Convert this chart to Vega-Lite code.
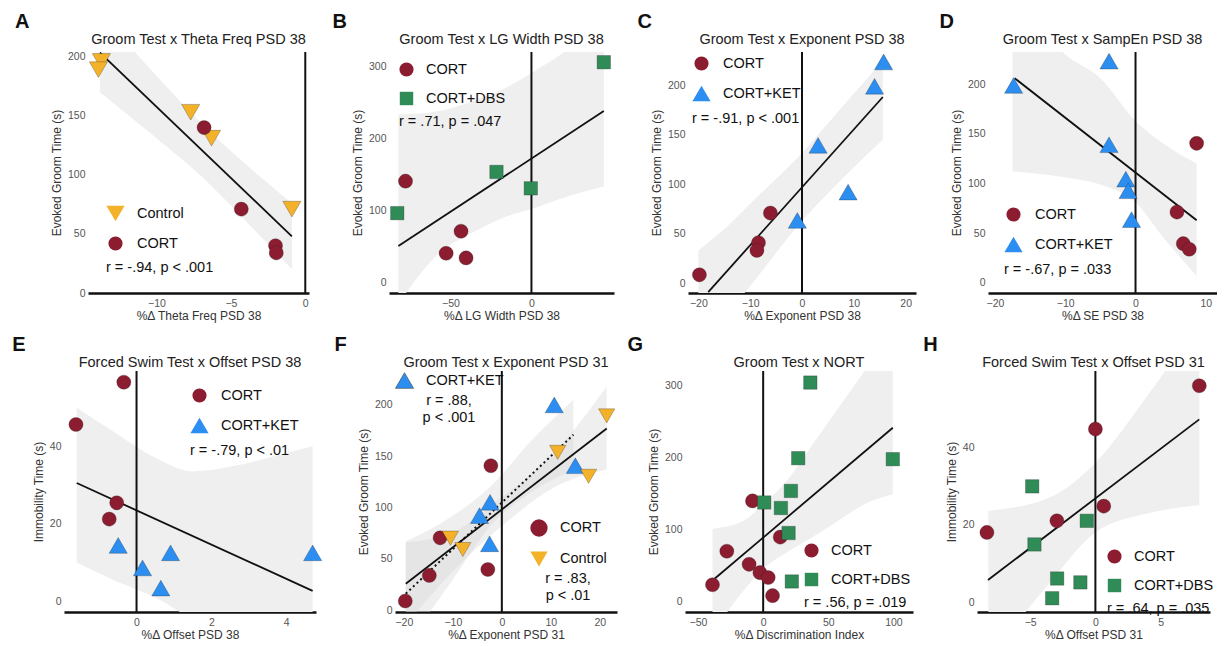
{
"$schema": "https://vega.github.io/schema/vega-lite/v6.json",
"padding": {"left": 12, "top": 11, "right": 0, "bottom": 0},
"background": "white",
"spacing": 12,
"resolve": {"scale": {"color": "independent", "shape": "independent", "size": "independent"}, "legend": {"color": "independent", "shape": "independent", "size": "independent"}},
"config": {
  "font": "Liberation Sans",
  "view": {"stroke": null},
  "axis": {"grid": false, "ticks": false, "labelColor": "#555", "labelFontSize": 10.5, "titleColor": "#333", "titleFontSize": 12, "titleFontWeight": "normal", "labelFlush": false, "labelOverlap": false},
  "axisX": {"domainColor": "#111", "domainWidth": 2.6, "labelPadding": 5, "titlePadding": 2},
  "axisY": {"domain": false, "labelPadding": 3, "titlePadding": 4},
  "legend": {"labelFontSize": 14.5, "labelColor": "#111", "titleFontSize": 14.5, "titleFontWeight": "normal", "titleColor": "#111", "titleOrient": "bottom", "titlePadding": 9, "titleLimit": 400, "labelLimit": 300, "symbolSize": 300, "symbolStrokeWidth": 0.6, "symbolStrokeColor": "#444", "symbolOpacity": 1, "rowPadding": 12, "labelOffset": 12, "padding": 0}
},
"datasets": {
  "A_pts": [
    {"x": -13.7, "y": 196, "group": "Control"}, {"x": -13.9, "y": 189, "group": "Control"}, {"x": -7.7, "y": 153, "group": "Control"}, {"x": -6.3, "y": 131, "group": "Control"}, {"x": -0.9, "y": 71, "group": "Control"},
    {"x": -6.8, "y": 140, "group": "CORT"}, {"x": -4.3, "y": 71, "group": "CORT"}, {"x": -2.0, "y": 40, "group": "CORT"}, {"x": -1.95, "y": 34, "group": "CORT"}],
  "A_fit": [{"x": -13.8, "y": 203.5}, {"x": -0.9, "y": 48}],
  "A_band": [{"x": -13.8, "lo": 170, "hi": 237}, {"x": -10, "lo": 131, "hi": 184}, {"x": -7, "lo": 99, "hi": 144}, {"x": -4, "lo": 61, "hi": 109}, {"x": -0.9, "lo": 20, "hi": 76}],
  "B_pts": [
    {"x": -77.8, "y": 140.5, "group": "CORT"}, {"x": -43.5, "y": 70.9, "group": "CORT"}, {"x": -52.7, "y": 40.2, "group": "CORT"}, {"x": -40.4, "y": 33.8, "group": "CORT"},
    {"x": -82.9, "y": 96, "group": "CORT+DBS"}, {"x": -21.6, "y": 153.3, "group": "CORT+DBS"}, {"x": -0.4, "y": 130.5, "group": "CORT+DBS"}, {"x": 44.7, "y": 305.8, "group": "CORT+DBS"}],
  "B_fit": [{"x": -82.2, "y": 50.3}, {"x": 44.7, "y": 238}],
  "B_band": [{"x": -82.2, "lo": -30, "hi": 233}, {"x": -56.7, "lo": 41, "hi": 238}, {"x": -36.3, "lo": 69, "hi": 252}, {"x": -15.9, "lo": 91, "hi": 270}, {"x": 4.5, "lo": 105, "hi": 297}, {"x": 20.8, "lo": 118, "hi": 321}, {"x": 44.7, "lo": 133, "hi": 370}],
  "C_pts": [
    {"x": -19.8, "y": 8.4, "group": "CORT"}, {"x": -6.1, "y": 70.8, "group": "CORT"}, {"x": -8.4, "y": 40.8, "group": "CORT"}, {"x": -8.7, "y": 33.1, "group": "CORT"},
    {"x": 15.75, "y": 223.6, "group": "CORT+KET"}, {"x": 14.0, "y": 199, "group": "CORT+KET"}, {"x": 3.1, "y": 139.3, "group": "CORT+KET"}, {"x": 8.9, "y": 92, "group": "CORT+KET"}, {"x": -0.9, "y": 63.4, "group": "CORT+KET"}],
  "C_fit": [{"x": -18.1, "y": -9.1}, {"x": 15.6, "y": 188.2}],
  "C_band": [{"x": -20, "lo": -75, "hi": 33}, {"x": -14.3, "lo": -32, "hi": 58}, {"x": -7.9, "lo": 11, "hi": 91}, {"x": -0.8, "lo": 58, "hi": 127}, {"x": 6.9, "lo": 101, "hi": 173}, {"x": 15.6, "lo": 145, "hi": 225}],
  "D_pts": [
    {"x": 8.7, "y": 140.4, "group": "CORT"}, {"x": 5.9, "y": 71.2, "group": "CORT"}, {"x": 6.8, "y": 39.4, "group": "CORT"}, {"x": 7.65, "y": 33.8, "group": "CORT"},
    {"x": -17.35, "y": 198.7, "group": "CORT+KET"}, {"x": -3.77, "y": 223.2, "group": "CORT+KET"}, {"x": -3.77, "y": 139, "group": "CORT+KET"}, {"x": -1.38, "y": 104.3, "group": "CORT+KET"}, {"x": -1.05, "y": 92.7, "group": "CORT+KET"}, {"x": -0.57, "y": 63.6, "group": "CORT+KET"}],
  "D_fit": [{"x": -17.2, "y": 206}, {"x": 8.7, "y": 62.9}],
  "D_band": [{"x": -17.5, "lo": 112, "hi": 290}, {"x": -10, "lo": 106, "hi": 230}, {"x": -5, "lo": 99, "hi": 206}, {"x": 0, "lo": 81, "hi": 163}, {"x": 4, "lo": 45, "hi": 140}, {"x": 8.7, "lo": 7, "hi": 120}],
  "E_pts": [
    {"x": -0.34, "y": 56.5, "group": "CORT"}, {"x": -1.62, "y": 45.6, "group": "CORT"}, {"x": -0.53, "y": 25.4, "group": "CORT"}, {"x": -0.73, "y": 21.2, "group": "CORT"},
    {"x": -0.49, "y": 14.4, "group": "CORT+KET"}, {"x": 0.91, "y": 12.5, "group": "CORT+KET"}, {"x": 0.16, "y": 8.6, "group": "CORT+KET"}, {"x": 0.65, "y": 3.4, "group": "CORT+KET"}, {"x": 4.71, "y": 12.5, "group": "CORT+KET"}],
  "E_fit": [{"x": -1.6, "y": 30.5}, {"x": 4.71, "y": 2.7}],
  "E_band": [{"x": -1.6, "lo": 10, "hi": 50}, {"x": -0.5, "lo": 5, "hi": 43}, {"x": 0.5, "lo": 1, "hi": 37}, {"x": 1.5, "lo": -5, "hi": 33.5}, {"x": 2.67, "lo": -14, "hi": 35}, {"x": 3.7, "lo": -24, "hi": 37.5}, {"x": 4.71, "lo": -35, "hi": 40}],
  "F_pts": [
    {"x": -19.7, "y": 9.1, "group": "CORT"}, {"x": -14.8, "y": 34, "group": "CORT"}, {"x": -12.6, "y": 70.6, "group": "CORT"}, {"x": -2.24, "y": 140.8, "group": "CORT"}, {"x": -2.86, "y": 39.8, "group": "CORT"},
    {"x": 10.7, "y": 200, "group": "CORT+KET"}, {"x": 15, "y": 140.8, "group": "CORT+KET"}, {"x": -2.4, "y": 105.2, "group": "CORT+KET"}, {"x": -4.55, "y": 92.2, "group": "CORT+KET"}, {"x": -2.5, "y": 64.8, "group": "CORT+KET"},
    {"x": 21.4, "y": 189.3, "group": "Control"}, {"x": 11.4, "y": 153.8, "group": "Control"}, {"x": 17.7, "y": 130.5, "group": "Control"}, {"x": -10.5, "y": 70.3, "group": "Control"}, {"x": -7.96, "y": 59.2, "group": "Control"}],
  "F_fit_ctrl": [{"x": -19.6, "y": 25.9}, {"x": 21.4, "y": 177.1}],
  "F_fit_ket": [{"x": -19.6, "y": 16.2}, {"x": 14.6, "y": 170.9}],
  "F_band_ctrl": [{"x": -19.6, "lo": -14, "hi": 66}, {"x": -10, "lo": 38, "hi": 76}, {"x": 0, "lo": 82, "hi": 110}, {"x": 10, "lo": 118, "hi": 150}, {"x": 21.4, "lo": 137, "hi": 218}],
  "F_band_ket": [{"x": -19.6, "lo": -35, "hi": 67}, {"x": -10, "lo": 30, "hi": 92}, {"x": -2, "lo": 84, "hi": 122}, {"x": 6, "lo": 115, "hi": 165}, {"x": 14.6, "lo": 137, "hi": 205}],
  "G_pts": [
    {"x": -38.9, "y": 22.9, "group": "CORT"}, {"x": -27.9, "y": 69.6, "group": "CORT"}, {"x": -8.2, "y": 139.7, "group": "CORT"}, {"x": -10.8, "y": 51.4, "group": "CORT"}, {"x": -2.5, "y": 39.8, "group": "CORT"}, {"x": 3.85, "y": 33, "group": "CORT"}, {"x": 13.1, "y": 89.3, "group": "CORT"}, {"x": 7.2, "y": 7.8, "group": "CORT"},
    {"x": 36.2, "y": 304.5, "group": "CORT+DBS"}, {"x": 26.9, "y": 199.2, "group": "CORT+DBS"}, {"x": 99.5, "y": 197.8, "group": "CORT+DBS"}, {"x": 21.3, "y": 153.6, "group": "CORT+DBS"}, {"x": 0.8, "y": 137.5, "group": "CORT+DBS"}, {"x": 13.6, "y": 129.8, "group": "CORT+DBS"}, {"x": 19.5, "y": 95, "group": "CORT+DBS"}, {"x": 22, "y": 27.5, "group": "CORT+DBS"}],
  "G_fit": [{"x": -38.9, "y": 28.8}, {"x": 99.5, "y": 241.6}],
  "G_band": [{"x": -38.9, "lo": -45, "hi": 101}, {"x": -15, "lo": 15, "hi": 112}, {"x": 0, "lo": 45, "hi": 135}, {"x": 20, "lo": 70, "hi": 172}, {"x": 36.7, "lo": 88, "hi": 215}, {"x": 60, "lo": 115, "hi": 275}, {"x": 77.7, "lo": 135, "hi": 320}, {"x": 99.5, "lo": 149, "hi": 370}],
  "H_pts": [
    {"x": -8.31, "y": 18, "group": "CORT"}, {"x": -2.95, "y": 21, "group": "CORT"}, {"x": 0, "y": 44.7, "group": "CORT"}, {"x": 0.64, "y": 24.8, "group": "CORT"}, {"x": 7.96, "y": 55.9, "group": "CORT"},
    {"x": -4.84, "y": 29.9, "group": "CORT+DBS"}, {"x": -0.66, "y": 21, "group": "CORT+DBS"}, {"x": -4.67, "y": 14.9, "group": "CORT+DBS"}, {"x": -2.93, "y": 6.1, "group": "CORT+DBS"}, {"x": -1.15, "y": 5.1, "group": "CORT+DBS"}, {"x": -3.31, "y": 1, "group": "CORT+DBS"}],
  "H_fit": [{"x": -8.23, "y": 5.7}, {"x": 7.96, "y": 47.2}],
  "H_band": [{"x": -8.2, "lo": -15, "hi": 23.6}, {"x": -3.5, "lo": 5, "hi": 27}, {"x": 0, "lo": 18, "hi": 36}, {"x": 4.13, "lo": 23, "hi": 54}, {"x": 7.96, "lo": 25, "hi": 72}]
},
"vconcat": [
 {"spacing": 23, "resolve": {"scale": {"color": "independent", "shape": "independent", "size": "independent"}, "legend": {"color": "independent", "shape": "independent", "size": "independent"}},
  "hconcat": [
  {"title": {"text": "A", "anchor": "start", "frame": "group", "dx": -49, "fontSize": 20, "fontWeight": "bold", "color": "#111", "offset": 0},
   "resolve": {"scale": {"color": "independent", "shape": "independent", "size": "independent"}, "legend": {"color": "independent", "shape": "independent", "size": "independent"}},
   "bounds": "flush",
   "spacing": 23,
   "hconcat": [
    {"width": 1, "height": 1, "data": {"values": []}, "mark": "point"},
    {
    "width": 221, "height": 241,
    "title": {"text": "Groom Test x Theta Freq PSD 38", "anchor": "middle", "frame": "group", "fontSize": 14.5, "fontWeight": "normal", "color": "#222", "offset": 4},
    "layer": [
     {"data": {"name": "A_band"}, "mark": {"type": "area", "color": "#efefef", "opacity": 1, "clip": true, "interpolate": "monotone"},
      "encoding": {"x": {"field": "x", "type": "quantitative", "title": "%Δ Theta Freq PSD 38", "scale": {"domain": [-14.6, 0.25], "nice": false, "zero": false}, "axis": {"values": [-10, -5, 0]}},
                   "y": {"field": "lo", "type": "quantitative", "title": "Evoked Groom Time (s)", "scale": {"domain": [0, 204], "nice": false, "zero": false}, "axis": {"values": [0, 50, 100, 150, 200]}},
                   "y2": {"field": "hi"}}},
     {"data": {"values": [{}]}, "mark": {"type": "rule", "color": "#111", "strokeWidth": 2}, "encoding": {"x": {"datum": 0, "type": "quantitative"}}},
     {"data": {"name": "A_fit"}, "mark": {"type": "line", "color": "#111", "strokeWidth": 1.8, "clip": true},
      "encoding": {"x": {"field": "x", "type": "quantitative", "title": "%Δ Theta Freq PSD 38"}, "y": {"field": "y", "type": "quantitative", "title": "Evoked Groom Time (s)"}}},
     {"data": {"name": "A_pts"}, "mark": {"type": "point", "filled": true, "opacity": 1, "stroke": "#222", "strokeOpacity": 0.35, "strokeWidth": 0.8},
      "encoding": {"x": {"field": "x", "type": "quantitative", "title": "%Δ Theta Freq PSD 38"},
                   "y": {"field": "y", "type": "quantitative", "title": "Evoked Groom Time (s)"},
                   "size": {"field": "group", "type": "nominal", "scale": {"type": "point", "domain": ["Control", "CORT"], "range": [330, 200]}, "legend": null},
                   "color": {"field": "group", "type": "nominal", "scale": {"domain": ["Control", "CORT"], "range": ["#f3b229", "#8c1c30"]}, "legend": {"title": "r = -.94, p < .001", "orient": "bottom-left", "offset": 18}},
                   "shape": {"field": "group", "type": "nominal", "scale": {"domain": ["Control", "CORT"], "range": ["triangle-down", "circle"]}, "legend": {"title": "r = -.94, p < .001", "orient": "bottom-left", "offset": 18}}}}
    ]}]},
  {"title": {"text": "B", "anchor": "start", "frame": "bounds", "dx": -19, "fontSize": 20, "fontWeight": "bold", "color": "#111", "offset": 0},
   "resolve": {"scale": {"color": "independent", "shape": "independent", "size": "independent"}, "legend": {"color": "independent", "shape": "independent", "size": "independent"}},
   "vconcat": [{
    "width": 225, "height": 241,
    "title": {"text": "Groom Test x LG Width PSD 38", "anchor": "middle", "frame": "group", "fontSize": 14.5, "fontWeight": "normal", "color": "#222", "offset": 4},
    "layer": [
     {"data": {"name": "B_band"}, "mark": {"type": "area", "color": "#efefef", "opacity": 1, "clip": true, "interpolate": "monotone"},
      "encoding": {"x": {"field": "x", "type": "quantitative", "title": "%Δ LG Width PSD 38", "scale": {"domain": [-88, 51], "nice": false, "zero": false}, "axis": {"values": [-50, 0]}},
                   "y": {"field": "lo", "type": "quantitative", "title": "Evoked Groom Time (s)", "scale": {"domain": [-15, 320], "nice": false, "zero": false}, "axis": {"values": [0, 100, 200, 300]}},
                   "y2": {"field": "hi"}}},
     {"data": {"values": [{}]}, "mark": {"type": "rule", "color": "#111", "strokeWidth": 2}, "encoding": {"x": {"datum": 0, "type": "quantitative"}}},
     {"data": {"name": "B_fit"}, "mark": {"type": "line", "color": "#111", "strokeWidth": 1.8, "clip": true},
      "encoding": {"x": {"field": "x", "type": "quantitative", "title": "%Δ LG Width PSD 38"}, "y": {"field": "y", "type": "quantitative", "title": "Evoked Groom Time (s)"}}},
     {"data": {"name": "B_pts"}, "mark": {"type": "point", "filled": true, "opacity": 1, "stroke": "#222", "strokeOpacity": 0.35, "strokeWidth": 0.8},
      "encoding": {"x": {"field": "x", "type": "quantitative", "title": "%Δ LG Width PSD 38"},
                   "y": {"field": "y", "type": "quantitative", "title": "Evoked Groom Time (s)"},
                   "size": {"field": "group", "type": "nominal", "scale": {"type": "point", "domain": ["CORT", "CORT+DBS"], "range": [200, 180]}, "legend": null},
                   "color": {"field": "group", "type": "nominal", "scale": {"domain": ["CORT", "CORT+DBS"], "range": ["#8c1c30", "#2f8c57"]}, "legend": {"title": "r = .71, p = .047", "orient": "top-left", "offset": 10}},
                   "shape": {"field": "group", "type": "nominal", "scale": {"domain": ["CORT", "CORT+DBS"], "range": ["circle", "square"]}, "legend": {"title": "r = .71, p = .047", "orient": "top-left", "offset": 10}}}}
    ]}]},
  {"title": {"text": "C", "anchor": "start", "frame": "bounds", "dx": -13, "fontSize": 20, "fontWeight": "bold", "color": "#111", "offset": 0},
   "resolve": {"scale": {"color": "independent", "shape": "independent", "size": "independent"}, "legend": {"color": "independent", "shape": "independent", "size": "independent"}},
   "vconcat": [{
    "width": 228, "height": 241,
    "title": {"text": "Groom Test x Exponent PSD 38", "anchor": "middle", "frame": "group", "fontSize": 14.5, "fontWeight": "normal", "color": "#222", "offset": 4},
    "layer": [
     {"data": {"name": "C_band"}, "mark": {"type": "area", "color": "#efefef", "opacity": 1, "clip": true, "interpolate": "monotone"},
      "encoding": {"x": {"field": "x", "type": "quantitative", "title": "%Δ Exponent PSD 38", "scale": {"domain": [-22, 22], "nice": false, "zero": false}, "axis": {"values": [-20, -10, 0, 10, 20]}},
                   "y": {"field": "lo", "type": "quantitative", "title": "Evoked Groom Time (s)", "scale": {"domain": [-10, 233.7], "nice": false, "zero": false}, "axis": {"values": [0, 50, 100, 150, 200]}},
                   "y2": {"field": "hi"}}},
     {"data": {"values": [{}]}, "mark": {"type": "rule", "color": "#111", "strokeWidth": 2}, "encoding": {"x": {"datum": 0, "type": "quantitative"}}},
     {"data": {"name": "C_fit"}, "mark": {"type": "line", "color": "#111", "strokeWidth": 1.8, "clip": true},
      "encoding": {"x": {"field": "x", "type": "quantitative", "title": "%Δ Exponent PSD 38"}, "y": {"field": "y", "type": "quantitative", "title": "Evoked Groom Time (s)"}}},
     {"data": {"name": "C_pts"}, "mark": {"type": "point", "filled": true, "opacity": 1, "stroke": "#222", "strokeOpacity": 0.35, "strokeWidth": 0.8},
      "encoding": {"x": {"field": "x", "type": "quantitative", "title": "%Δ Exponent PSD 38"},
                   "y": {"field": "y", "type": "quantitative", "title": "Evoked Groom Time (s)"},
                   "size": {"field": "group", "type": "nominal", "scale": {"type": "point", "domain": ["CORT", "CORT+KET"], "range": [200, 330]}, "legend": null},
                   "color": {"field": "group", "type": "nominal", "scale": {"domain": ["CORT", "CORT+KET"], "range": ["#8c1c30", "#2b8ef0"]}, "legend": {"title": "r = -.91, p < .001", "orient": "top-left", "offset": 4}},
                   "shape": {"field": "group", "type": "nominal", "scale": {"domain": ["CORT", "CORT+KET"], "range": ["circle", "triangle-up"]}, "legend": {"title": "r = -.91, p < .001", "orient": "top-left", "offset": 4}}}}
    ]}]},
  {"title": {"text": "D", "anchor": "start", "frame": "bounds", "dx": -11, "fontSize": 20, "fontWeight": "bold", "color": "#111", "offset": 0},
   "resolve": {"scale": {"color": "independent", "shape": "independent", "size": "independent"}, "legend": {"color": "independent", "shape": "independent", "size": "independent"}},
   "vconcat": [{
    "width": 229, "height": 241,
    "title": {"text": "Groom Test x SampEn PSD 38", "anchor": "middle", "frame": "group", "fontSize": 14.5, "fontWeight": "normal", "color": "#222", "offset": 4},
    "layer": [
     {"data": {"name": "D_band"}, "mark": {"type": "area", "color": "#efefef", "opacity": 1, "clip": true, "interpolate": "monotone"},
      "encoding": {"x": {"field": "x", "type": "quantitative", "title": "%Δ SE PSD 38", "scale": {"domain": [-21, 11.6], "nice": false, "zero": false}, "axis": {"values": [-20, -10, 0, 10]}},
                   "y": {"field": "lo", "type": "quantitative", "title": "Evoked Groom Time (s)", "scale": {"domain": [-10.3, 232.4], "nice": false, "zero": false}, "axis": {"values": [0, 50, 100, 150, 200]}},
                   "y2": {"field": "hi"}}},
     {"data": {"values": [{}]}, "mark": {"type": "rule", "color": "#111", "strokeWidth": 2}, "encoding": {"x": {"datum": 0, "type": "quantitative"}}},
     {"data": {"name": "D_fit"}, "mark": {"type": "line", "color": "#111", "strokeWidth": 1.8, "clip": true},
      "encoding": {"x": {"field": "x", "type": "quantitative", "title": "%Δ SE PSD 38"}, "y": {"field": "y", "type": "quantitative", "title": "Evoked Groom Time (s)"}}},
     {"data": {"name": "D_pts"}, "mark": {"type": "point", "filled": true, "opacity": 1, "stroke": "#222", "strokeOpacity": 0.35, "strokeWidth": 0.8},
      "encoding": {"x": {"field": "x", "type": "quantitative", "title": "%Δ SE PSD 38"},
                   "y": {"field": "y", "type": "quantitative", "title": "Evoked Groom Time (s)"},
                   "size": {"field": "group", "type": "nominal", "scale": {"type": "point", "domain": ["CORT", "CORT+KET"], "range": [200, 330]}, "legend": null},
                   "color": {"field": "group", "type": "nominal", "scale": {"domain": ["CORT", "CORT+KET"], "range": ["#8c1c30", "#2b8ef0"]}, "legend": {"title": "r = -.67, p = .033", "orient": "bottom-left", "offset": 16}},
                   "shape": {"field": "group", "type": "nominal", "scale": {"domain": ["CORT", "CORT+KET"], "range": ["circle", "triangle-up"]}, "legend": {"title": "r = -.67, p = .033", "orient": "bottom-left", "offset": 16}}}}
    ]}]}
 ]},
 {"spacing": 10, "resolve": {"scale": {"color": "independent", "shape": "independent", "size": "independent"}, "legend": {"color": "independent", "shape": "independent", "size": "independent"}},
  "hconcat": [
  {"title": {"text": "E", "anchor": "start", "frame": "bounds", "dx": -20, "fontSize": 20, "fontWeight": "bold", "color": "#111", "offset": 0},
   "resolve": {"scale": {"color": "independent", "shape": "independent", "size": "independent"}, "legend": {"color": "independent", "shape": "independent", "size": "independent"}},
   "vconcat": [{
    "width": 252, "height": 241,
    "title": {"text": "Forced Swim Test x Offset PSD 38", "anchor": "middle", "frame": "group", "fontSize": 14.5, "fontWeight": "normal", "color": "#222", "offset": 0},
    "layer": [
     {"data": {"name": "E_band"}, "mark": {"type": "area", "color": "#efefef", "opacity": 1, "clip": true, "interpolate": "monotone"},
      "encoding": {"x": {"field": "x", "type": "quantitative", "title": "%Δ Offset PSD 38", "scale": {"domain": [-1.94, 4.8], "nice": false, "zero": false}, "axis": {"values": [0, 2, 4]}},
                   "y": {"field": "lo", "type": "quantitative", "title": "Immobility Time (s)", "scale": {"domain": [-2.76, 59.4], "nice": false, "zero": false}, "axis": {"values": [0, 20, 40]}},
                   "y2": {"field": "hi"}}},
     {"data": {"values": [{}]}, "mark": {"type": "rule", "color": "#111", "strokeWidth": 2}, "encoding": {"x": {"datum": 0, "type": "quantitative"}}},
     {"data": {"name": "E_fit"}, "mark": {"type": "line", "color": "#111", "strokeWidth": 1.8, "clip": true},
      "encoding": {"x": {"field": "x", "type": "quantitative", "title": "%Δ Offset PSD 38"}, "y": {"field": "y", "type": "quantitative", "title": "Immobility Time (s)"}}},
     {"data": {"name": "E_pts"}, "mark": {"type": "point", "filled": true, "opacity": 1, "stroke": "#222", "strokeOpacity": 0.35, "strokeWidth": 0.8},
      "encoding": {"x": {"field": "x", "type": "quantitative", "title": "%Δ Offset PSD 38"},
                   "y": {"field": "y", "type": "quantitative", "title": "Immobility Time (s)"},
                   "size": {"field": "group", "type": "nominal", "scale": {"type": "point", "domain": ["CORT", "CORT+KET"], "range": [200, 330]}, "legend": null},
                   "color": {"field": "group", "type": "nominal", "scale": {"domain": ["CORT", "CORT+KET"], "range": ["#8c1c30", "#2b8ef0"]}, "legend": {"title": "r = -.79, p < .01", "orient": "top-right", "offset": 17}},
                   "shape": {"field": "group", "type": "nominal", "scale": {"domain": ["CORT", "CORT+KET"], "range": ["circle", "triangle-up"]}, "legend": {"title": "r = -.79, p < .01", "orient": "top-right", "offset": 17}}}}
    ]}]},
  {"title": {"text": "F", "anchor": "start", "frame": "bounds", "dx": -23, "fontSize": 20, "fontWeight": "bold", "color": "#111", "offset": 0},
   "resolve": {"scale": {"color": "independent", "shape": "independent", "size": "independent"}, "legend": {"color": "independent", "shape": "independent", "size": "independent"}},
   "vconcat": [{
    "width": 222, "height": 241,
    "title": {"text": "Groom Test x Exponent PSD 31", "anchor": "middle", "frame": "group", "fontSize": 14.5, "fontWeight": "normal", "color": "#222", "offset": 0},
    "layer": [
     {"data": {"name": "F_band_ctrl"}, "mark": {"type": "area", "color": "#d6d6d6", "opacity": 0.4, "clip": true, "interpolate": "monotone"},
      "encoding": {"x": {"field": "x", "type": "quantitative", "title": "%Δ Exponent PSD 31", "scale": {"domain": [-21.8, 23.5], "nice": false, "zero": false}, "axis": {"values": [-20, -10, 0, 10, 20]}},
                   "y": {"field": "lo", "type": "quantitative", "title": "Evoked Groom Time (s)", "scale": {"domain": [-1.6, 233], "nice": false, "zero": false}, "axis": {"values": [0, 50, 100, 150, 200]}},
                   "y2": {"field": "hi"}}},
     {"data": {"name": "F_band_ket"}, "mark": {"type": "area", "color": "#d6d6d6", "opacity": 0.4, "clip": true, "interpolate": "monotone"},
      "encoding": {"x": {"field": "x", "type": "quantitative", "title": "%Δ Exponent PSD 31"},
                   "y": {"field": "lo", "type": "quantitative", "title": "Evoked Groom Time (s)"},
                   "y2": {"field": "hi"}}},
     {"data": {"values": [{}]}, "mark": {"type": "rule", "color": "#111", "strokeWidth": 2}, "encoding": {"x": {"datum": 0, "type": "quantitative"}}},
     {"data": {"name": "F_fit_ctrl"}, "mark": {"type": "line", "color": "#111", "strokeWidth": 1.8, "clip": true},
      "encoding": {"x": {"field": "x", "type": "quantitative", "title": "%Δ Exponent PSD 31"}, "y": {"field": "y", "type": "quantitative", "title": "Evoked Groom Time (s)"}}},
     {"data": {"name": "F_fit_ket"}, "mark": {"type": "line", "color": "#111", "strokeWidth": 2, "strokeDash": [2, 3], "clip": true},
      "encoding": {"x": {"field": "x", "type": "quantitative", "title": "%Δ Exponent PSD 31"}, "y": {"field": "y", "type": "quantitative", "title": "Evoked Groom Time (s)"}}},
     {"data": {"name": "F_pts"}, "mark": {"type": "point", "filled": true, "opacity": 1, "stroke": "#222", "strokeOpacity": 0.35, "strokeWidth": 0.8},
      "encoding": {"x": {"field": "x", "type": "quantitative", "title": "%Δ Exponent PSD 31"},
                   "y": {"field": "y", "type": "quantitative", "title": "Evoked Groom Time (s)"},
                   "size": {"field": "group", "type": "nominal", "scale": {"type": "point", "domain": ["CORT+KET", "Control", "CORT"], "range": [330, 200]},
                            "legend": {"title": ["r = .88,", "p < .001"], "orient": "top-left", "offset": 0, "values": ["CORT+KET"], "symbolType": "triangle-up", "symbolFillColor": "#2b8ef0", "titleAnchor": "middle", "titlePadding": 4}},
                   "color": {"field": "group", "type": "nominal", "scale": {"domain": ["CORT", "CORT+KET", "Control"], "range": ["#8c1c30", "#2b8ef0", "#f3b229"]},
                             "legend": {"title": ["r = .83,", "p < .01"], "orient": "bottom-right", "offset": 10, "values": ["CORT", "Control"], "titleAnchor": "middle", "titlePadding": 4}},
                   "shape": {"field": "group", "type": "nominal", "scale": {"domain": ["CORT", "CORT+KET", "Control"], "range": ["circle", "triangle-up", "triangle-down"]},
                             "legend": {"title": ["r = .83,", "p < .01"], "orient": "bottom-right", "offset": 10, "values": ["CORT", "Control"], "titleAnchor": "middle", "titlePadding": 4}}}}
    ]}]},
  {"title": {"text": "G", "anchor": "start", "frame": "bounds", "dx": -20, "fontSize": 20, "fontWeight": "bold", "color": "#111", "offset": 0},
   "resolve": {"scale": {"color": "independent", "shape": "independent", "size": "independent"}, "legend": {"color": "independent", "shape": "independent", "size": "independent"}},
   "vconcat": [{
    "width": 228, "height": 241,
    "title": {"text": "Groom Test x NORT", "anchor": "middle", "frame": "group", "fontSize": 14.5, "fontWeight": "normal", "color": "#222", "offset": 0},
    "layer": [
     {"data": {"name": "G_band"}, "mark": {"type": "area", "color": "#efefef", "opacity": 1, "clip": true, "interpolate": "monotone"},
      "encoding": {"x": {"field": "x", "type": "quantitative", "title": "%Δ Discrimination Index", "scale": {"domain": [-60, 115], "nice": false, "zero": false}, "axis": {"values": [-50, 0, 50, 100]}},
                   "y": {"field": "lo", "type": "quantitative", "title": "Evoked Groom Time (s)", "scale": {"domain": [-15, 320.6], "nice": false, "zero": false}, "axis": {"values": [0, 100, 200, 300]}},
                   "y2": {"field": "hi"}}},
     {"data": {"values": [{}]}, "mark": {"type": "rule", "color": "#111", "strokeWidth": 2}, "encoding": {"x": {"datum": 0, "type": "quantitative"}}},
     {"data": {"name": "G_fit"}, "mark": {"type": "line", "color": "#111", "strokeWidth": 1.8, "clip": true},
      "encoding": {"x": {"field": "x", "type": "quantitative", "title": "%Δ Discrimination Index"}, "y": {"field": "y", "type": "quantitative", "title": "Evoked Groom Time (s)"}}},
     {"data": {"name": "G_pts"}, "mark": {"type": "point", "filled": true, "opacity": 1, "stroke": "#222", "strokeOpacity": 0.35, "strokeWidth": 0.8},
      "encoding": {"x": {"field": "x", "type": "quantitative", "title": "%Δ Discrimination Index"},
                   "y": {"field": "y", "type": "quantitative", "title": "Evoked Groom Time (s)"},
                   "size": {"field": "group", "type": "nominal", "scale": {"type": "point", "domain": ["CORT", "CORT+DBS"], "range": [200, 180]}, "legend": null},
                   "color": {"field": "group", "type": "nominal", "scale": {"domain": ["CORT", "CORT+DBS"], "range": ["#8c1c30", "#2f8c57"]}, "legend": {"title": "r = .56, p = .019", "orient": "bottom-right", "offset": 2}},
                   "shape": {"field": "group", "type": "nominal", "scale": {"domain": ["CORT", "CORT+DBS"], "range": ["circle", "square"]}, "legend": {"title": "r = .56, p = .019", "orient": "bottom-right", "offset": 2}}}}
    ]}]},
  {"title": {"text": "H", "anchor": "start", "frame": "bounds", "dx": -22, "fontSize": 20, "fontWeight": "bold", "color": "#111", "offset": 0},
   "resolve": {"scale": {"color": "independent", "shape": "independent", "size": "independent"}, "legend": {"color": "independent", "shape": "independent", "size": "independent"}},
   "vconcat": [{
    "width": 233, "height": 241,
    "title": {"text": "Forced Swim Test x Offset PSD 31", "anchor": "middle", "frame": "group", "fontSize": 14.5, "fontWeight": "normal", "color": "#222", "offset": 0},
    "layer": [
     {"data": {"name": "H_band"}, "mark": {"type": "area", "color": "#efefef", "opacity": 1, "clip": true, "interpolate": "monotone"},
      "encoding": {"x": {"field": "x", "type": "quantitative", "title": "%Δ Offset PSD 31", "scale": {"domain": [-9.07, 8.78], "nice": false, "zero": false}, "axis": {"values": [-5, 0, 5]}},
                   "y": {"field": "lo", "type": "quantitative", "title": "Immobility Time (s)", "scale": {"domain": [-2.55, 59.7], "nice": false, "zero": false}, "axis": {"values": [0, 20, 40]}},
                   "y2": {"field": "hi"}}},
     {"data": {"values": [{}]}, "mark": {"type": "rule", "color": "#111", "strokeWidth": 2}, "encoding": {"x": {"datum": 0, "type": "quantitative"}}},
     {"data": {"name": "H_fit"}, "mark": {"type": "line", "color": "#111", "strokeWidth": 1.8, "clip": true},
      "encoding": {"x": {"field": "x", "type": "quantitative", "title": "%Δ Offset PSD 31"}, "y": {"field": "y", "type": "quantitative", "title": "Immobility Time (s)"}}},
     {"data": {"name": "H_pts"}, "mark": {"type": "point", "filled": true, "opacity": 1, "stroke": "#222", "strokeOpacity": 0.35, "strokeWidth": 0.8},
      "encoding": {"x": {"field": "x", "type": "quantitative", "title": "%Δ Offset PSD 31"},
                   "y": {"field": "y", "type": "quantitative", "title": "Immobility Time (s)"},
                   "size": {"field": "group", "type": "nominal", "scale": {"type": "point", "domain": ["CORT", "CORT+DBS"], "range": [200, 180]}, "legend": null},
                   "color": {"field": "group", "type": "nominal", "scale": {"domain": ["CORT", "CORT+DBS"], "range": ["#8c1c30", "#2f8c57"]}, "legend": {"title": "r = .64, p = .035", "orient": "bottom-right", "offset": -4}},
                   "shape": {"field": "group", "type": "nominal", "scale": {"domain": ["CORT", "CORT+DBS"], "range": ["circle", "square"]}, "legend": {"title": "r = .64, p = .035", "orient": "bottom-right", "offset": -4}}}}
    ]}]}
 ]}
]
}
